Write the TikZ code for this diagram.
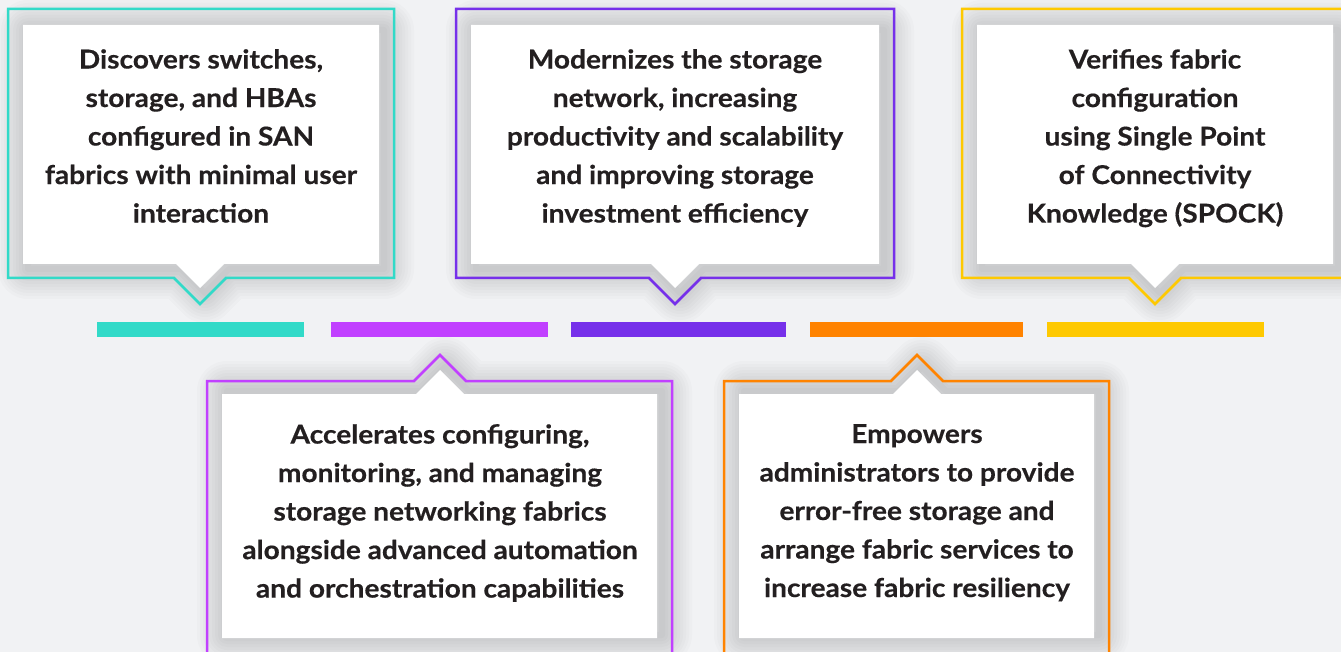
\documentclass[tikz,border=0pt]{standalone}
\usepackage{fontspec}
\setmainfont{Lato}[BoldFeatures={FakeStretch=1.08,FakeBold=0.4}]
\definecolor{paper}{HTML}{F1F2F4}
\definecolor{ink}{HTML}{231F20}
\definecolor{hpeteal}{HTML}{32DAC8}
\definecolor{hpemagenta}{HTML}{C140FF}
\definecolor{hpeviolet}{HTML}{7630EA}
\definecolor{hpeorange}{HTML}{FF8300}
\definecolor{hpeyellow}{HTML}{FEC901}

\begin{document}
\begin{tikzpicture}[x=1pt,y=-1pt]
        \tikzstyle{rim}=[line width=2.5pt]
        \tikzstyle{card}=[fill=white]
        \tikzstyle{haze}=[draw=black,opacity=.015,line join=round]
        \tikzstyle{blurb}=[align=center,anchor=north,inner sep=0pt,text=ink,font=\bfseries\fontsize{26}{38.5}\selectfont]
          \useasboundingbox[fill=paper] (0,0) rectangle (1341,652);
          % soft shadows
          \foreach \w in {6,12,...,60} {
            \draw[haze,line width=\w pt,shift={(5,5)}] (23,25) -- (379,25) -- (379,264) -- (224,264) -- (200,288) -- (176,264) -- (23,264) -- cycle;
            \draw[haze,line width=\w pt,shift={(5,5)}] (471,25) -- (879,25) -- (879,264) -- (699,264) -- (675,288) -- (651,264) -- (471,264) -- cycle;
            \draw[haze,line width=\w pt,shift={(5,5)}] (977,25) -- (1333,25) -- (1333,264) -- (1179,264) -- (1155,288) -- (1131,264) -- (977,264) -- cycle;
            \draw[haze,line width=\w pt,shift={(5,-3)}] (222,394) -- (416,394) -- (440,370) -- (464,394) -- (657,394) -- (657,638) -- (222,638) -- cycle;
            \draw[haze,line width=\w pt,shift={(5,-3)}] (739,394) -- (893,394) -- (917,370) -- (941,394) -- (1094,394) -- (1094,638) -- (739,638) -- cycle;
          }
          % outlines
          \draw[rim,hpeteal] (8,9) -- (394,9) -- (394,278) -- (226,278) -- (200,304) -- (174,278) -- (8,278) -- cycle;
          \draw[rim,hpeviolet] (456,9) -- (894,9) -- (894,278) -- (701,278) -- (675,304) -- (649,278) -- (456,278) -- cycle;
          \draw[rim,hpeyellow] (962,9) -- (1348,9) -- (1348,278) -- (1181,278) -- (1155,304) -- (1129,278) -- (962,278) -- cycle;
          \draw[rim,hpemagenta] (207,670) -- (207,381) -- (414,381) -- (440,355) -- (466,381) -- (672,381) -- (672,670);
          \draw[rim,hpeorange] (724,670) -- (724,381) -- (891,381) -- (917,355) -- (943,381) -- (1109,381) -- (1109,670);
          % cards
          \fill[card] (23,25) -- (379,25) -- (379,264) -- (224,264) -- (200,288) -- (176,264) -- (23,264) -- cycle;
          \fill[card] (471,25) -- (879,25) -- (879,264) -- (699,264) -- (675,288) -- (651,264) -- (471,264) -- cycle;
          \fill[card] (977,25) -- (1333,25) -- (1333,264) -- (1179,264) -- (1155,288) -- (1131,264) -- (977,264) -- cycle;
          \fill[card] (222,394) -- (416,394) -- (440,370) -- (464,394) -- (657,394) -- (657,638) -- (222,638) -- cycle;
          \fill[card] (739,394) -- (893,394) -- (917,370) -- (941,394) -- (1094,394) -- (1094,638) -- (739,638) -- cycle;
          % texts
          \node (discover) at (201,49) [blurb] {Discovers switches,\\storage, and HBAs\\configured in SAN\\fabrics with minimal user\\interaction};
          \node (modernize) at (675,49) [blurb] {Modernizes the storage\\network, increasing\\productivity and scalability\\and improving storage\\investment efficiency};
          \node (verify) at (1155,49) [blurb] {Verifies fabric\\configuration\\using Single Point\\of Connectivity\\Knowledge (SPOCK)};
          \node (accelerate) at (440,424) [blurb] {Accelerates configuring,\\monitoring, and managing\\storage networking fabrics\\alongside advanced automation\\and orchestration capabilities};
          \node (empower) at (917,424) [blurb] {Empowers\\administrators to provide\\error-free storage and\\arrange fabric services to\\increase fabric resiliency};
          % timeline bars
          \fill[hpeteal] (97,322) rectangle (304,337);
          \fill[hpemagenta] (331,322) rectangle (548,337);
          \fill[hpeviolet] (571,322) rectangle (786,337);
          \fill[hpeorange] (810,322) rectangle (1023,337);
          \fill[hpeyellow] (1047,322) rectangle (1264,337);
      \end{tikzpicture}
\end{document}
